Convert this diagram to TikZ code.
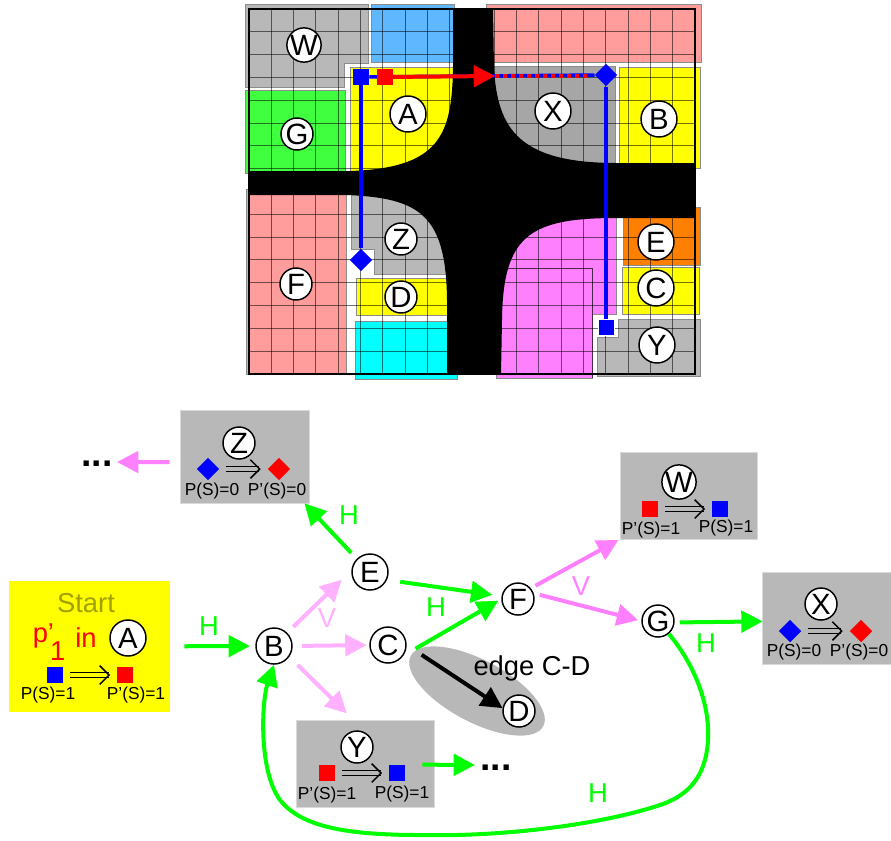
\documentclass[tikz,border=0pt]{standalone}
\usepackage{fontspec}
\setmainfont{Liberation Sans}
\usepackage{tikz}
\usetikzlibrary{arrows.meta}
\usetikzlibrary{shapes.geometric}
\definecolor{boxgray}{HTML}{B8B8B8}
\definecolor{darkgray}{HTML}{A6A6A6}
\definecolor{skyblue}{HTML}{5FB8FF}
\definecolor{salmon}{HTML}{FF9D9D}
\definecolor{leafgreen}{HTML}{3FFF3F}
\definecolor{edgegreen}{HTML}{00FF00}
\definecolor{magentapink}{HTML}{FF80FF}
\definecolor{palepink}{HTML}{FFB0FF}
\definecolor{olive}{HTML}{A0A000}
\definecolor{fullyellow}{HTML}{FFFF00}
\definecolor{fullcyan}{HTML}{00FFFF}
\definecolor{fullorange}{HTML}{FF8000}
\tikzstyle{vertex}=[circle,fill=white,draw,line width=1.1pt,minimum size=27pt,inner sep=0pt,font=\fontsize{22}{22}\selectfont]
\tikzstyle{smallvertex}=[circle,fill=white,draw,line width=1.1pt,minimum size=24pt,inner sep=0pt,font=\fontsize{22}{22}\selectfont]
\tikzstyle{region}=[draw=black!45,line width=0.6pt]
\tikzstyle{gridline}=[black,opacity=0.55,line width=0.75pt]
\tikzstyle{statebox}=[rectangle,fill=boxgray,draw=black!15,line width=0.5pt,inner sep=0pt]
\tikzstyle{squaremark}=[rectangle,minimum size=12pt,inner sep=0pt]
\tikzstyle{diamondmark}=[diamond,minimum size=17pt,inner sep=0pt]
\tikzstyle{ptext}=[font=\fontsize{13}{13}\selectfont,inner sep=0pt]
\tikzstyle{weight}=[font=\fontsize{20.5}{20.5}\selectfont,inner sep=0pt]
\tikzstyle{dots}=[font=\bfseries\fontsize{28}{28}\selectfont,inner sep=0pt]
\tikzstyle{edge}=[draw,line width=3pt,-{Triangle[length=16pt,width=16pt]}]
\tikzstyle{doubleline}=[draw=black,line width=1.1pt,double distance=2.6pt,shorten <=5pt,shorten >=6pt]
\tikzstyle{barbhead}=[line width=0.1pt,shorten <=20pt,shorten >=5pt,-{Straight Barb[color=black,length=7pt,width=14pt,line width=1.1pt]}]

\begin{document}
\begin{tikzpicture}[x=0.75pt,y=-0.75pt]
  \useasboundingbox (0,0) rectangle (891,840);

  % regions of the map
  \fill[region,fill=boxgray] (245,4) -- (368,4) -- (368,63) -- (344,63) -- (344,87) -- (245,87) -- cycle;
  \fill[region,fill=skyblue] (371,4) rectangle (454,62);
  \fill[region,fill=salmon] (486,4) rectangle (701,62);
  \fill[region,fill=leafgreen] (245,90) rectangle (345,173);
  \fill[region,fill=fullyellow] (350,67) rectangle (456,173);
  \fill[region,fill=darkgray] (492,66) rectangle (615,165);
  \fill[region,fill=fullyellow] (619,67) rectangle (700,168);
  \fill[region,fill=salmon] (246,189) rectangle (346,374);
  \fill[region,fill=boxgray] (351,190) -- (351,249) -- (374,249) -- (374,274) -- (450,274) -- (450,190) -- cycle;
  \fill[region,fill=fullyellow] (356,278) rectangle (450,315);
  \fill[region,fill=fullcyan] (355,321) rectangle (457,379);
  \fill[region,fill=magentapink] (496,378) -- (592,378) -- (592,314) -- (616,314) -- (616,210) -- (496,210) -- cycle;
  \fill[region,fill=fullorange] (623,207) rectangle (700,265);
  \fill[region,fill=fullyellow] (622,267) rectangle (699,314);
  \fill[region,fill=boxgray] (618,319) -- (700,319) -- (700,376) -- (597,376) -- (597,337) -- (618,337) -- cycle;
  \draw[black!70!magentapink,line width=0.75pt] (505,268) -- (592,268) -- (592,378);

  \foreach \k in {0,...,20}
     \draw[gridline] ({249+22.3*\k},9) -- ({249+22.3*\k},374);
  \foreach \k in {0,...,16}
     \draw[gridline] (249,{9+22.8125*\k}) -- (695,{9+22.8125*\k});
  \draw[black,line width=0.9pt] (249,9) rectangle (695,374);

  % the crossing
  \fill[black] (453,9) -- (493,9) -- (494,67) .. controls (497,130) and (520,163) .. (617,163)
     -- (695,163) -- (695,218) -- (617,218) .. controls (530,218) and (503,235) .. (502,320)
     -- (501,374) -- (447,374) -- (447,300) .. controls (446,215) and (420,198) .. (347,195)
     -- (249,195) -- (249,171) -- (350,171) .. controls (440,168) and (452,135) .. (453,67) -- cycle;

  % positions on the map
  \node[squaremark,fill=blue] (blueA) at (361,77) {};
  \node[diamondmark,fill=blue] (blueX) at (606,75) {};
  \node[diamondmark,fill=blue] (blueZ) at (361,260) {};
  \node[squaremark,fill=blue,draw=white,line width=0.7pt] (blueY) at (606,327) {};
  \coordinate (redtip) at (495,76);
  \coordinate (redend) at (588,76);
  \draw[blue,line width=2.7pt] (blueA) -- (blueZ);
  \draw[blue,line width=2.7pt] (blueA) -- (blueX);
  \draw[blue,line width=2.7pt] (blueX) -- (blueY);
  \node[squaremark,fill=red] (redA) at (385,77) {};
  \draw[red,line width=2.4pt,dash pattern=on 3pt off 3pt] (redtip) -- (redend);
  \draw[edge,red] (redA) -- (redtip);

  \foreach \x/\y/\name/\label/\kind in {304/45/W/W/smallvertex, 297/134/G/G/smallvertex, 408/114/A/A/vertex, 553/111/X/X/vertex,
     659/119/B/B/vertex, 401/239/Z/Z/smallvertex, 401/297/D/D/smallvertex, 296/284/F/F/smallvertex,
     656/242/E/E/vertex, 656/288/C/C/vertex, 657/345/Y/Y/vertex}
     \node[\kind] (map\name) at (\x,\y) {\label};

  % boxes of the graph
  \node[rectangle,fill=fullyellow,inner sep=0pt,minimum width=120.75pt,minimum height=98.25pt] (start) at (89.5,646.5) {};
  \foreach \x/\y/\w/\h/\name in {244.5/456.5/129/93/boxZ, 688.5/495.5/137/87/boxW, 826.5/618/129/92/boxX, 365/763.5/138/87/boxY}
     \node[statebox,minimum width=\w*0.75pt,minimum height=\h*0.75pt] (\name) at (\x,\y) {};
  \node[ellipse,fill=boxgray,rotate=-28,minimum width=112.5pt,minimum height=46.5pt,inner sep=0pt] (edgeCD) at (477,691) {};

  % vertices
  \foreach \x/\y/\name/\label/\kind in {128/638/sA/A/vertex, 274/646/B/B/vertex, 388/645/C/C/vertex, 370/572/E/E/vertex,
     518/599/F/F/smallvertex, 658/621/G/G/smallvertex, 519/711/D/D/smallvertex,
     239/443/Z/Z/smallvertex, 679/482/W/W/smallvertex, 821/604/X/X/smallvertex, 357/747/Y/Y/smallvertex}
     \node[\kind] (\name) at (\x,\y) {\label};

  \foreach \x/\y/\name/\col in {55/675/s1/blue, 125/675/s2/red, 327/773/y1/red, 397/773/y2/blue, 650/509/w1/red, 720/509/w2/blue}
     \node[squaremark,fill=\col] (\name) at (\x,\y) {};
  \foreach \x/\y/\name/\col in {208/469/z1/blue, 279/469/z2/red, 790/631/x1/blue, 861/631/x2/red}
     \node[diamondmark,fill=\col] (\name) at (\x,\y) {};
  \foreach \source/\dest/\col in {s1/s2/fullyellow, z1/z2/boxgray, y1/y2/boxgray, w1/w2/boxgray, x1/x2/boxgray} {
     \draw[doubleline,double=\col] (\source) -- (\dest);
     \draw[barbhead,\col] (\source) -- (\dest);
  }

  \foreach \x/\y/\name/\label in {48/695/ts1/P(S)=1, 136/695/ts2/P'(S)=1, 212/491/tz1/P(S)=0, 277/491/tz2/P'(S)=0,
     327/795/ty1/P'(S)=1, 402/794/ty2/P(S)=1, 651/530/tw1/P'(S)=1, 726/528/tw2/P(S)=1,
     794/652/tx1/P(S)=0, 859/652/tx2/P'(S)=0}
     \node[ptext] (\name) at (\x,\y) {\label};

  \node[weight,olive] (starttext) at (86,603) {Start};
  \node[weight,red] (ptitle) at (49,642) {p'\hspace{-3pt}\raisebox{-13pt}{1}};
  \node[weight,red] (intext) at (86,638) {in};
  \node[weight] (edgetext) at (532,668) {edge C-D};

  \node[dots] (dotsZ) at (97,464) {...};
  \node[dots] (dotsY) at (496,768) {...};
  \coordinate (tipZ) at (117,462);
  \coordinate (tipY) at (475,765);

  % edges of the graph
  \foreach \source/\dest/\sa/\sb in {start/B/10.5pt/4pt, E.-25/F.170/10pt/7pt, C.-35/F.180/10.6pt/2.6pt, G.-5/boxX.183/3.8pt/-0.75pt, E.135/boxZ.-38/6pt/0pt, boxY.-1/tipY/-9pt/0pt}
     \draw[edge,edgegreen,shorten <=\sa,shorten >=\sb] (\source) -- (\dest);
  \foreach \source/\dest/\sa/\sb in {F.40/boxW.south west/4pt/1pt, F.20/G.west/4.7pt/2.4pt, boxZ.185/tipZ/7.5pt/0pt}
     \draw[edge,magentapink,shorten <=\sa,shorten >=\sb] (\source) -- (\dest);
  \foreach \source/\dest/\sa/\sb in {B.45/E.175/6.3pt/10pt, B.east/C.west/7pt/2pt, B.-35/boxY.105/8.8pt/6.8pt}
     \draw[edge,palepink,shorten <=\sa,shorten >=\sb] (\source) -- (\dest);
  \draw[edge,black,shorten <=13.4pt,shorten >=0pt] (C.east) -- (D.170);
  \draw[edge,edgegreen] (G.-50) .. controls (695,665) and (710,705) .. (708,740)
     .. controls (706,775) and (690,795) .. (660,805)
     .. controls (600,825) and (500,837) .. (420,835)
     .. controls (340,835) and (300,825) .. (280,800)
     .. controls (258,770) and (262,700) .. (B.south);

  \foreach \x/\y/\name/\label/\col in {209/626/H1/H/edgegreen, 349/515/H2/H/edgegreen, 436/607/H3/H/edgegreen, 706/643/H4/H/edgegreen,
     598/793/H5/H/edgegreen, 327/618/V1/V/palepink, 581/586/V2/V/magentapink}
     \node[weight,\col] (\name) at (\x,\y) {\label};
\end{tikzpicture}
\end{document}
